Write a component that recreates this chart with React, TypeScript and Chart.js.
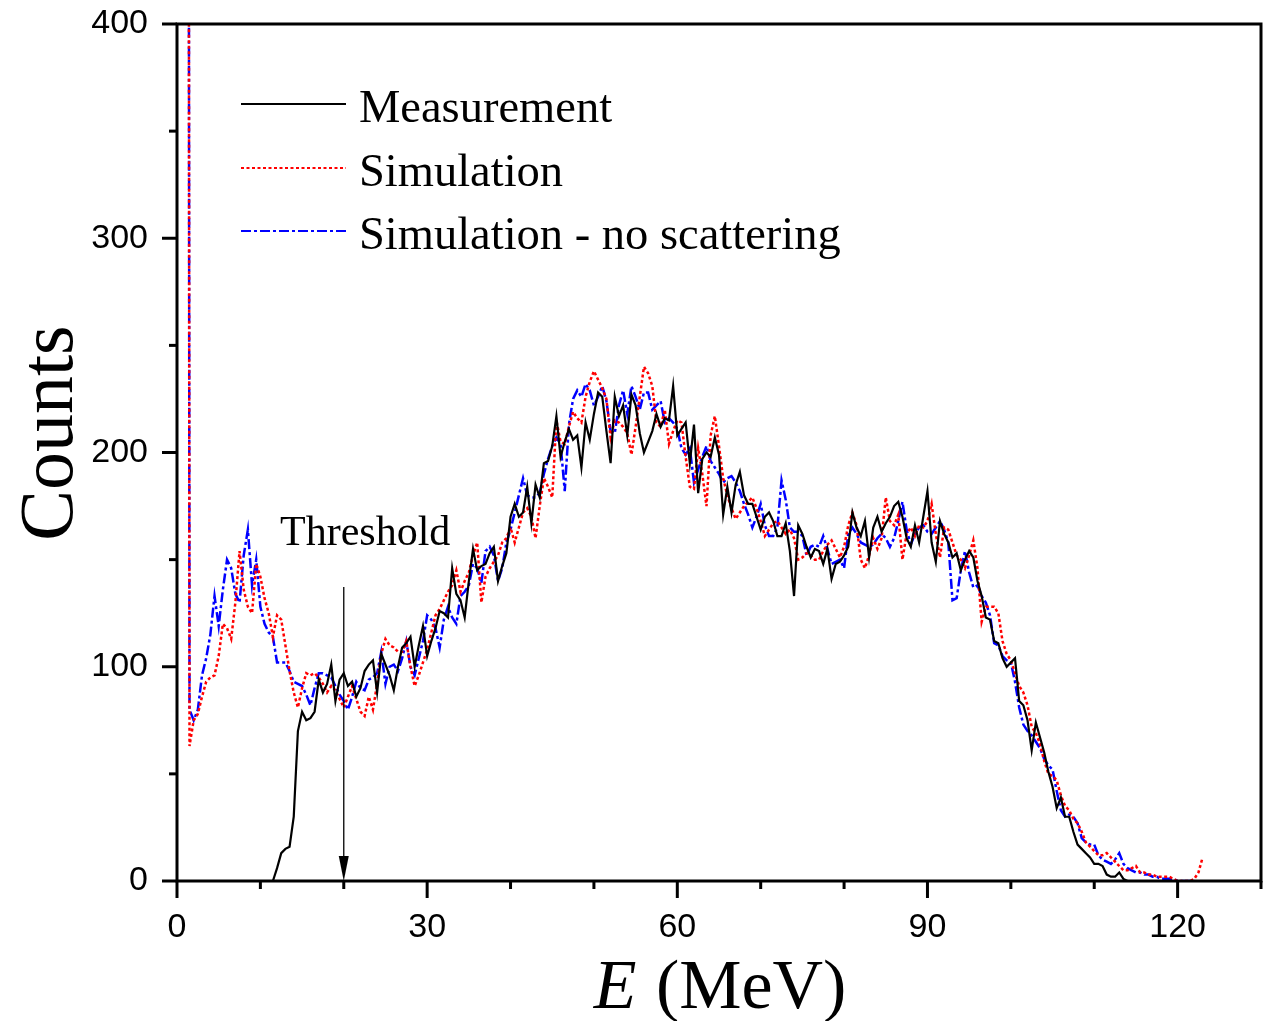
import React, { useEffect, useRef } from "react";
import { Chart, registerables } from "chart.js";

Chart.register(...registerables);

// ---- data (bin width 0.5 MeV) ----
const E_STEP = 0.5;
const MEAS_START = 11.5; // first measurement bin (MeV)
const SIM_START = 1.0; // first simulation bin (MeV)

const MEASUREMENT = [
  0, 6, 13, 15, 16, 30, 70, 79, 75, 76,
  79, 94, 88, 92, 101, 84, 94, 97, 91, 93,
  86, 90, 98, 101, 103, 88, 106, 101, 96, 89,
  100, 109, 111, 114, 100, 110, 119, 105, 112, 118,
  126, 125, 123, 146, 134, 131, 123, 140, 155, 145,
  147, 148, 153, 156, 140, 147, 153, 170, 176, 170,
  172, 184, 167, 185, 179, 195, 196, 203, 217, 198,
  205, 211, 206, 208, 193, 214, 206, 218, 228, 226,
  210, 195, 226, 217, 222, 208, 227, 222, 209, 200,
  205, 210, 218, 212, 216, 215, 231, 208, 211, 214,
  195, 213, 181, 197, 200, 198, 207, 199, 171, 184,
  172, 185, 191, 180, 176, 176, 170, 164, 170, 172,
  168, 161, 161, 167, 154, 133, 166, 162, 156, 151,
  155, 154, 148, 155, 141, 148, 149, 152, 156, 172,
  165, 161, 168, 151, 165, 170, 163, 167, 170, 175,
  177, 170, 160, 156, 166, 158, 170, 182, 158, 149,
  168, 162, 158, 151, 153, 145, 150, 154, 151, 140,
  133, 123, 122, 112, 111, 104, 100, 102, 104, 84,
  82, 75, 61, 74, 67, 60, 51, 44, 34, 39,
  30, 30, 23, 17, 15, 13, 11, 8, 8, 7,
  3, 2, 2, 4, 1, 0,
];

const SIMULATION = [
  2500, 63, 75, 78, 86, 93, 95, 96, 105, 120,
  118, 113, 130, 154, 136, 128, 125, 148, 142, 132,
  125, 114, 124, 122, 110, 98, 88, 81, 90, 97,
  96, 97, 95, 92, 88, 91, 89, 85, 81, 86,
  91, 85, 79, 77, 86, 80, 92, 106, 113, 110,
  109, 107, 107, 112, 100, 91, 96, 102, 108, 116,
  124, 127, 131, 135, 138, 145, 135, 140, 144, 152,
  158, 130, 142, 146, 149, 152, 158, 160, 165, 158,
  165, 172, 174, 170, 160, 175, 188, 184, 179, 215,
  205, 204, 212, 219, 216, 214, 226, 233, 238, 234,
  230, 225, 207, 215, 214, 212, 209, 199, 212, 226,
  240, 237, 231, 214, 212, 220, 204, 210, 215, 214,
  198, 184, 183, 202, 190, 175, 208, 217, 203, 188,
  180, 174, 169, 172, 175, 177, 179, 174, 168, 161,
  164, 167, 168, 165, 162, 164, 160, 150, 151, 153,
  152, 150, 150, 154, 157, 159, 155, 151, 156, 166,
  172, 166, 150, 146, 152, 160, 155, 160, 179, 168,
  166, 171, 150, 162, 165, 161, 166, 165, 168, 176,
  162, 151, 165, 164, 158, 152, 150, 146, 152, 159,
  146, 121, 128, 128, 128, 125, 112, 106, 103, 97,
  91, 88, 82, 72, 69, 64, 56, 50, 49, 47,
  40, 35, 33, 29, 27, 23, 18, 16, 14, 12,
  12, 13, 11, 9, 7, 5, 5, 6, 7, 4,
  4, 3, 3, 2, 2, 2, 2, 1, 0, 0,
  0, 0, 1, 4, 11,
];

const SIM_NO_SCATTER = [
  2500, 80, 75, 80, 96, 104, 115, 133, 119, 136,
  150, 146, 134, 130, 152, 164, 138, 150, 128, 120,
  116, 114, 102, 102, 102, 98, 93, 92, 91, 87,
  82, 90, 97, 97, 96, 95, 91, 87, 84, 80,
  86, 93, 90, 89, 94, 95, 97, 107, 92, 100,
  101, 98, 104, 112, 100, 96, 104, 112, 124, 122,
  118, 109, 122, 128, 123, 120, 133, 135, 138, 148,
  146, 139, 154, 156, 152, 140, 146, 158, 164, 172,
  180, 188, 180, 179, 179, 181, 190, 197, 203, 207,
  204, 182, 213, 225, 229, 226, 232, 229, 222, 226,
  231, 224, 210, 209, 222, 229, 218, 231, 226, 220,
  228, 228, 220, 222, 224, 214, 216, 214, 211, 202,
  199, 202, 186, 192, 198, 203, 196, 193, 190, 186,
  188, 189, 186, 182, 176, 171, 165, 170, 176, 166,
  161, 161, 165, 187, 178, 165, 163, 163, 161, 152,
  156, 157, 156, 161, 155, 148, 149, 150, 146, 162,
  165, 162, 158, 157, 156, 157, 160, 162, 160, 156,
  160, 168, 177, 164, 157, 162, 165, 166, 163, 162,
  165, 168, 164, 158, 131, 132, 145, 154, 144, 137,
  138, 133, 130, 124, 111, 110, 105, 103, 102, 93,
  81, 73, 70, 68, 65, 62, 57, 54, 52, 42,
  33, 30, 31, 30, 27, 20, 18, 17, 17, 12,
  10, 9, 8, 10, 13, 8, 6, 5, 4, 4,
  3, 3, 2, 2, 1, 1, 1, 1, 0, 0,
  0, 0, 0,
];

const SERIES_LABELS = ["Measurement", "Simulation", "Simulation - no scattering"];
const X_TICK_LABELS = [0, 30, 60, 90, 120];
const Y_TICK_LABELS = [0, 100, 200, 300, 400];
const X_MINOR_STEP = 10;
const Y_MINOR_STEP = 50;
const X_MAX = 130;
const Y_MAX = 400;
const THRESHOLD_E = 20;
const THRESHOLD_LABEL = "Threshold";

const SERIF = "'Liberation Serif', 'Times New Roman', serif";
const SANS = "'Liberation Sans', Arial, sans-serif";

const STYLES = [
  { color: "#000000", width: 2.2, dash: [] as number[] },
  { color: "#ff0000", width: 2.5, dash: [3, 2.5] },
  { color: "#0000ff", width: 2.5, dash: [10, 3, 3, 3] },
];

function toPoints(start: number, values: number[]) {
  return values.map((v, i) => ({ x: start + i * E_STEP, y: v }));
}

const decorPlugin = {
  id: "decor",
  afterDraw(chart: any) {
    const { ctx, chartArea: a } = chart;
    const xs = chart.scales.x;
    const ys = chart.scales.y;
    ctx.save();
    ctx.strokeStyle = "#000";
    ctx.fillStyle = "#000";
    ctx.lineWidth = 3;
    ctx.setLineDash([]);
    // frame
    ctx.strokeRect(a.left, a.top, a.right - a.left, a.bottom - a.top);
    // x ticks (outward): major at labelled values, minor every 10
    for (let v = 0; v <= X_MAX; v += X_MINOR_STEP) {
      const px = xs.getPixelForValue(v);
      const major = X_TICK_LABELS.includes(v);
      ctx.beginPath();
      ctx.moveTo(px, a.bottom);
      ctx.lineTo(px, a.bottom + (major ? 17 : 8));
      ctx.stroke();
    }
    // y ticks (outward)
    for (let v = 0; v <= Y_MAX; v += Y_MINOR_STEP) {
      const py = ys.getPixelForValue(v);
      const major = Y_TICK_LABELS.includes(v);
      ctx.beginPath();
      ctx.moveTo(a.left, py);
      ctx.lineTo(a.left - (major ? 15 : 8), py);
      ctx.stroke();
    }

    // y title
    ctx.save();
    ctx.translate(72, 433);
    ctx.rotate(-Math.PI / 2);
    ctx.font = `76px ${SERIF}`;
    ctx.textAlign = "center";
    ctx.textBaseline = "alphabetic";
    ctx.fillText("Counts", 0, 0);
    ctx.restore();

    // x title: italic E + (MeV)
    ctx.textBaseline = "alphabetic";
    ctx.textAlign = "left";
    const fItal = `italic 70px ${SERIF}`;
    const fNorm = `70px ${SERIF}`;
    ctx.font = fItal;
    const wE = ctx.measureText("E").width;
    ctx.font = fNorm;
    const rest = " (MeV)";
    const wR = ctx.measureText(rest).width;
    const cx = (a.left + a.right) / 2;
    const x0 = cx - (wE + wR) / 2;
    ctx.font = fItal;
    ctx.fillText("E", x0, 1008);
    ctx.font = fNorm;
    ctx.fillText(rest, x0 + wE + 2, 1008);

    // legend
    const legendY = [104, 168, 231];
    ctx.font = `46.5px ${SERIF}`;
    SERIES_LABELS.forEach((lab, i) => {
      const s = STYLES[i];
      ctx.save();
      ctx.strokeStyle = s.color;
      ctx.lineWidth = 2;
      ctx.setLineDash(s.dash);
      ctx.beginPath();
      ctx.moveTo(241, legendY[i]);
      ctx.lineTo(346, legendY[i]);
      ctx.stroke();
      ctx.restore();
      ctx.fillStyle = "#000";
      ctx.fillText(lab, 359, legendY[i] + 18);
    });

    // threshold annotation
    const tx = xs.getPixelForValue(THRESHOLD_E);
    ctx.font = `42px ${SERIF}`;
    ctx.fillText(THRESHOLD_LABEL, 280, 545);
    ctx.lineWidth = 1.3;
    ctx.beginPath();
    ctx.moveTo(tx, 587);
    ctx.lineTo(tx, a.bottom - 20);
    ctx.stroke();
    ctx.beginPath();
    ctx.moveTo(tx - 5, a.bottom - 25);
    ctx.lineTo(tx + 5, a.bottom - 25);
    ctx.lineTo(tx, a.bottom);
    ctx.closePath();
    ctx.fill();

    ctx.restore();
  },
};

export default function App() {
  const ref = useRef<HTMLCanvasElement | null>(null);
  useEffect(() => {
    if (!ref.current) return;
    const chart = new Chart(ref.current, {
      type: "line",
      data: {
        datasets: [
          { label: SERIES_LABELS[0], data: toPoints(MEAS_START, MEASUREMENT) },
          { label: SERIES_LABELS[1], data: toPoints(SIM_START, SIMULATION) },
          { label: SERIES_LABELS[2], data: toPoints(SIM_START, SIM_NO_SCATTER) },
        ].map((d, i) => ({
          ...d,
          borderColor: STYLES[i].color,
          borderWidth: STYLES[i].width,
          borderDash: STYLES[i].dash,
          pointRadius: 0,
          tension: 0,
          fill: false,
        })),
      },
      options: {
        animation: false,
        responsive: false,
        devicePixelRatio: 1,
        events: [],
        layout: { padding: { left: 0, top: 24, right: 12, bottom: 0 } },
        plugins: { legend: { display: false }, tooltip: { enabled: false } },
        scales: {
          x: {
            type: "linear",
            min: 0,
            max: X_MAX,
            grid: { display: false, drawTicks: false },
            border: { display: false },
            afterBuildTicks: (s: any) => {
              s.ticks = X_TICK_LABELS.map((v) => ({ value: v }));
            },
            ticks: {
              autoSkip: false,
              maxRotation: 0,
              padding: 26,
              color: "#000",
              font: { family: SANS, size: 34 },
            },
            afterFit: (s: any) => {
              s.height = 140;
              s.paddingLeft = 0;
              s.paddingRight = 0;
            },
          },
          y: {
            type: "linear",
            min: 0,
            max: Y_MAX,
            grid: { display: false, drawTicks: false },
            border: { display: false },
            afterBuildTicks: (s: any) => {
              s.ticks = Y_TICK_LABELS.map((v) => ({ value: v }));
            },
            ticks: {
              autoSkip: false,
              padding: 29,
              color: "#000",
              font: { family: SANS, size: 34 },
            },
            afterFit: (s: any) => {
              s.width = 177;
              s.paddingTop = 0;
              s.paddingBottom = 0;
            },
          },
        },
      },
      plugins: [decorPlugin],
    });
    return () => chart.destroy();
  }, []);
  return (
    <div style={{ position: "absolute", left: 0, top: 0, width: 1273, height: 1021, background: "#fff" }}>
      <canvas ref={ref} width={1273} height={1021} style={{ display: "block", width: 1273, height: 1021 }} />
    </div>
  );
}
